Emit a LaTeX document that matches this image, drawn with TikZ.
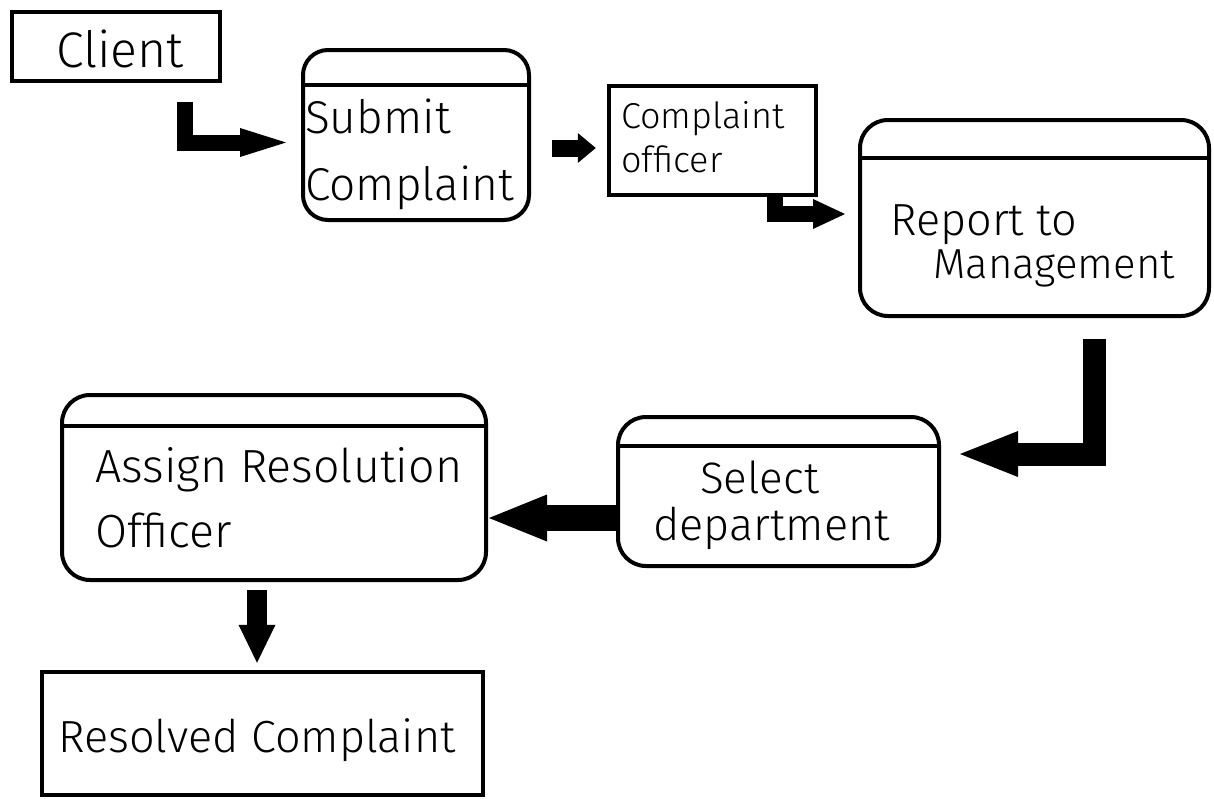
\documentclass[tikz,border=0pt]{standalone}
\usepackage{fontspec}
\setmainfont{Fira Sans Light}
\usetikzlibrary{arrows.meta,calc}
\tikzset{
  sqbox/.style={draw, line width=4.5pt, inner sep=0pt},
  rbox/.style={draw, line width=4pt, rounded corners=28pt, inner sep=0pt},
  hdr/.style={line width=4pt},
  txt/.style={inner sep=0pt, anchor=base west, font=\fontsize{44}{50}\selectfont},
  small/.style={font=\fontsize{36}{40}\selectfont},
  fat/.style n args={3}{line width=#1, line join=miter, line cap=butt,
     -{Triangle[length=#2, width=#3, line width=0pt]}}
}
\begin{document}
\begin{tikzpicture}[x=1pt,y=-1pt]
\useasboundingbox (0,0) rectangle (1214,798);
% boxes
\node[sqbox, minimum width=208pt, minimum height=69pt] (client) at (116,46.5) {};
\node[rbox, rounded corners=25pt, minimum width=226pt, minimum height=170pt] (submit) at (416,135) {};
\node[sqbox, minimum width=207pt, minimum height=109pt] (officer) at (712.5,140.5) {};
\node[rbox, minimum width=349pt, minimum height=196pt] (report) at (1034.5,218) {};
\node[rbox, minimum width=321pt, minimum height=149pt] (select) at (778.5,491.5) {};
\node[rbox, minimum width=424pt, minimum height=185pt] (assign) at (274,487.5) {};
\node[sqbox, minimum width=441pt, minimum height=123pt] (resolved) at (262.5,733.5) {};
% header lines
\draw[hdr] ([yshift=-37pt]submit.north west) -- ([yshift=-37pt]submit.north east);
\draw[hdr] ([yshift=-40pt]report.north west) -- ([yshift=-40pt]report.north east);
\draw[hdr] ([yshift=-31pt]select.north west) -- ([yshift=-31pt]select.north east);
\draw[hdr] ([yshift=-33pt]assign.north west) -- ([yshift=-33pt]assign.north east);
% texts
\node[txt, anchor=base, font=\fontsize{50}{56}\selectfont] (clientT) at (120,67) {Client};
\node[txt, font=\fontsize{46}{50}\selectfont] (submitA) at (305,133) {Submit};
\node[txt, font=\fontsize{46}{50}\selectfont] (submitB) at (305,200) {Complaint};
\node[txt, small] (officerA) at (621,128) {Complaint};
\node[txt, small] (officerB) at (621,172) {officer};
\node[txt, font=\fontsize{45}{50}\selectfont] (reportA) at (890,235) {Report to};
\node[txt, font=\fontsize{42}{50}\selectfont] (reportB) at (933,278) {Management};
\node[txt] (selectA) at (700,493) {Select};
\node[txt, font=\fontsize{45}{50}\selectfont] (selectB) at (653,540) {department};
\node[txt, font=\fontsize{46.5}{50}\selectfont] (assignA) at (95,482) {Assign Resolution};
\node[txt, font=\fontsize{46.5}{50}\selectfont] (assignB) at (95,547) {Officer};
\node[txt, font=\fontsize{45}{50}\selectfont] (resolvedT) at (58,752) {Resolved Complaint};
% connectors
\draw[fat={16pt}{46pt}{29pt}] ($(client.south)+(69,19)$) |- ($(submit.west)+(-15,7.5)$);
\draw[fat={17pt}{18pt}{30pt}] ($(submit.east)+(21,13)$) -- ($(officer.west)+(-11,7.5)$);
\draw[fat={16pt}{32pt}{30pt}] ($(officer.south)+(62.5,0)$) |- ($(report.west)+(-13,-4)$);
\draw[fat={23pt}{58pt}{46pt}] ($(report.south)+(59.5,21)$) |- ($(select.east)+(19,-37.5)$);
\draw[fat={26pt}{58pt}{47pt}] ($(select.west)+(0,26.5)$) -- ($(assign.east)+(1,30.5)$);
\draw[fat={20pt}{38pt}{37pt}] ($(assign.south)+(-17,8)$) -- ($(resolved.north)+(-5.5,-7)$);
\end{tikzpicture}
\end{document}
